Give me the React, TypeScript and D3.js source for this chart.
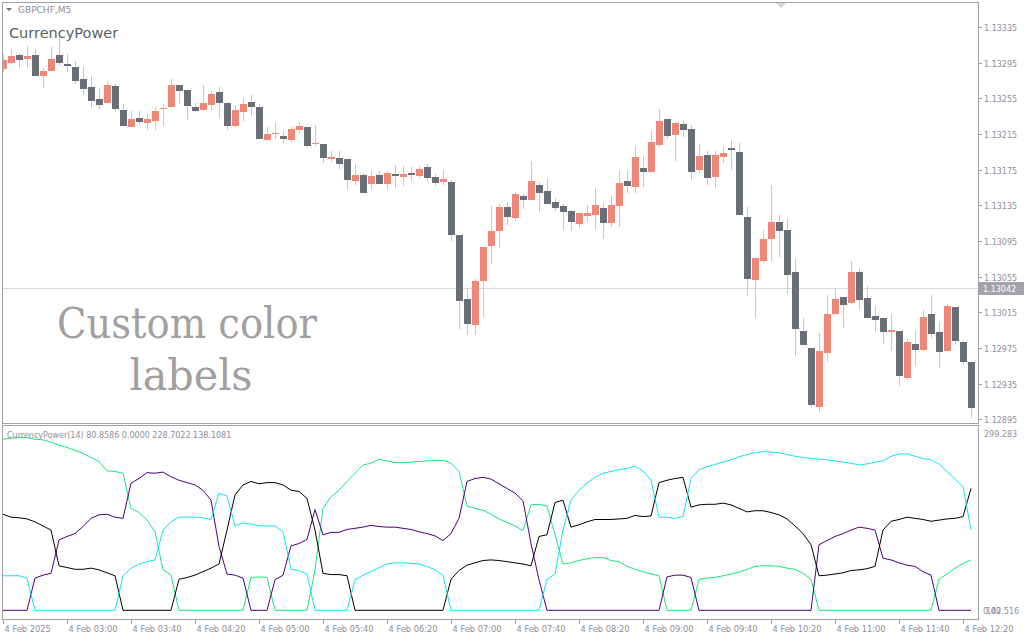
import React from "react";
import * as d3 from "d3";

// GBPCHF M5 candles (bar 0 = 4 Feb 02:20)
const opens = [
  1.13288, 1.13295, 1.13304, 1.13299, 1.13304, 1.13280, 1.13286, 1.13304, 1.13293, 1.13290,
  1.13277, 1.13268, 1.13254, 1.13250, 1.13269, 1.13242, 1.13223, 1.13233, 1.13227, 1.13230,
  1.13243, 1.13245, 1.13270, 1.13264, 1.13245, 1.13242, 1.13247, 1.13262, 1.13250, 1.13224,
  1.13240, 1.13251, 1.13245, 1.13208, 1.13215, 1.13213, 1.13208, 1.13219, 1.13223, 1.13204,
  1.13204, 1.13187, 1.13188, 1.13187, 1.13162, 1.13169, 1.13159, 1.13169, 1.13159, 1.13170,
  1.13167, 1.13171, 1.13168, 1.13178, 1.13167, 1.13161, 1.13161, 1.13102, 1.13030, 1.13001,
  1.13050, 1.13089, 1.13106, 1.13133, 1.13121, 1.13145, 1.13141, 1.13158, 1.13151, 1.13139,
  1.13134, 1.13129, 1.13114, 1.13123, 1.13124, 1.13132, 1.13115, 1.13134, 1.13162, 1.13156,
  1.13177, 1.13172, 1.13203, 1.13232, 1.13214, 1.13226, 1.13221, 1.13175, 1.13191, 1.13167,
  1.13189, 1.13199, 1.13195, 1.13122, 1.13051, 1.13073, 1.13097, 1.13116, 1.13107, 1.13060,
  1.12994, 1.12975, 1.12909, 1.12969, 1.13013, 1.13032, 1.13025, 1.13060, 1.13031, 1.13011,
  1.13009, 1.12993, 1.12994, 1.12941, 1.12979, 1.12973, 1.13013, 1.12993, 1.12972, 1.13021,
  1.12982, 1.12959,
];
const highs = [
  1.13305, 1.13310, 1.13306, 1.13314, 1.13310, 1.13289, 1.13313, 1.13325, 1.13305, 1.13297,
  1.13290, 1.13280, 1.13267, 1.13274, 1.13271, 1.13249, 1.13241, 1.13241, 1.13237, 1.13245,
  1.13249, 1.13277, 1.13270, 1.13264, 1.13250, 1.13270, 1.13263, 1.13268, 1.13251, 1.13247,
  1.13255, 1.13259, 1.13249, 1.13223, 1.13227, 1.13218, 1.13223, 1.13228, 1.13223, 1.13225,
  1.13204, 1.13196, 1.13196, 1.13187, 1.13181, 1.13171, 1.13174, 1.13174, 1.13174, 1.13180,
  1.13179, 1.13178, 1.13179, 1.13181, 1.13170, 1.13175, 1.13163, 1.13102, 1.13042, 1.13052,
  1.13088, 1.13134, 1.13136, 1.13139, 1.13150, 1.13148, 1.13185, 1.13161, 1.13165, 1.13143,
  1.13136, 1.13130, 1.13126, 1.13135, 1.13154, 1.13138, 1.13145, 1.13174, 1.13174, 1.13202,
  1.13190, 1.13218, 1.13243, 1.13232, 1.13228, 1.13230, 1.13225, 1.13204, 1.13196, 1.13196,
  1.13200, 1.13208, 1.13205, 1.13133, 1.13076, 1.13107, 1.13158, 1.13124, 1.13120, 1.13075,
  1.13009, 1.12975, 1.12992, 1.13034, 1.13041, 1.13032, 1.13073, 1.13065, 1.13045, 1.13022,
  1.13009, 1.13013, 1.12994, 1.12985, 1.12994, 1.13018, 1.13034, 1.13004, 1.13024, 1.13021,
  1.12983, 1.12959,
];
const lows = [
  1.13284, 1.13293, 1.13289, 1.13289, 1.13280, 1.13267, 1.13286, 1.13291, 1.13284, 1.13271,
  1.13259, 1.13244, 1.13243, 1.13250, 1.13241, 1.13224, 1.13223, 1.13225, 1.13219, 1.13219,
  1.13224, 1.13245, 1.13249, 1.13231, 1.13240, 1.13242, 1.13242, 1.13233, 1.13219, 1.13223,
  1.13230, 1.13235, 1.13209, 1.13208, 1.13209, 1.13205, 1.13206, 1.13215, 1.13200, 1.13202,
  1.13183, 1.13184, 1.13176, 1.13153, 1.13158, 1.13149, 1.13153, 1.13159, 1.13153, 1.13154,
  1.13157, 1.13162, 1.13166, 1.13161, 1.13157, 1.13158, 1.13095, 1.12996, 1.12990, 1.12990,
  1.13010, 1.13069, 1.13087, 1.13113, 1.13117, 1.13131, 1.13141, 1.13128, 1.13136, 1.13129,
  1.13107, 1.13106, 1.13110, 1.13116, 1.13108, 1.13097, 1.13111, 1.13111, 1.13149, 1.13149,
  1.13156, 1.13172, 1.13200, 1.13209, 1.13185, 1.13212, 1.13163, 1.13171, 1.13158, 1.13154,
  1.13183, 1.13175, 1.13124, 1.13033, 1.13009, 1.13070, 1.13072, 1.13077, 1.13036, 1.12966,
  1.12978, 1.12909, 1.12903, 1.12959, 1.13013, 1.12997, 1.13024, 1.13019, 1.13009, 1.12993,
  1.12979, 1.12972, 1.12932, 1.12939, 1.12955, 1.12972, 1.12986, 1.12953, 1.12972, 1.12979,
  1.12956, 1.12896,
];
const closes = [
  1.13298, 1.13302, 1.13298, 1.13302, 1.13280, 1.13286, 1.13299, 1.13295, 1.13291, 1.13274,
  1.13265, 1.13252, 1.13247, 1.13270, 1.13243, 1.13224, 1.13232, 1.13228, 1.13232, 1.13241,
  1.13244, 1.13270, 1.13263, 1.13246, 1.13241, 1.13250, 1.13260, 1.13250, 1.13224, 1.13242,
  1.13249, 1.13245, 1.13209, 1.13215, 1.13216, 1.13209, 1.13221, 1.13224, 1.13202, 1.13205,
  1.13188, 1.13189, 1.13181, 1.13163, 1.13169, 1.13149, 1.13168, 1.13159, 1.13171, 1.13168,
  1.13170, 1.13169, 1.13176, 1.13166, 1.13160, 1.13165, 1.13102, 1.13028, 1.13002, 1.13050,
  1.13088, 1.13106, 1.13133, 1.13122, 1.13148, 1.13141, 1.13162, 1.13149, 1.13136, 1.13132,
  1.13128, 1.13116, 1.13126, 1.13126, 1.13135, 1.13115, 1.13135, 1.13160, 1.13157, 1.13189,
  1.13172, 1.13206, 1.13230, 1.13213, 1.13227, 1.13219, 1.13172, 1.13190, 1.13166, 1.13191,
  1.13194, 1.13197, 1.13124, 1.13052, 1.13076, 1.13097, 1.13116, 1.13106, 1.13057, 1.12996,
  1.12978, 1.12911, 1.12972, 1.13013, 1.13030, 1.13023, 1.13060, 1.13029, 1.13009, 1.13006,
  1.12993, 1.12995, 1.12944, 1.12982, 1.12973, 1.13010, 1.12991, 1.12970, 1.13022, 1.12983,
  1.12959, 1.12908,
];

// CurrencyPower(14) buffers
const powerGreen = [
  292, 294, 295, 295, 292, 291, 287, 282, 278, 273, 268, 261, 254, 238, 237, 234, 174, 167, 154, 134,
  69, 60, 0, 0, 0, 0, 0, 0, 0, 0, 0, 56, 57, 56, 0, 0, 0, 0, 0, 69,
  174, 194, 205, 220, 234, 248, 251, 258, 255, 252, 252, 253, 254, 255, 256, 256, 251, 237, 178, 174,
  171, 164, 156, 150, 144, 136, 180, 181, 178, 129, 79, 81, 85, 88, 90, 90, 85, 83, 75, 70,
  66, 62, 59, 0, 0, 0, 0, 53, 55, 56, 59, 62, 65, 70, 75, 76, 76, 75, 72, 70,
  63, 53, 0, 0, 0, 0, 0, 0, 0, 0, 0, 0, 0, 0, 0, 0, 0, 53, 62, 72,
  80, 86,
];
const powerIndigo = [
  0, 0, 0, 0, 55, 60, 63, 120, 126, 131, 143, 157, 163, 164, 159, 157, 217, 225, 235, 234,
  236, 228, 222, 218, 214, 205, 188, 109, 62, 60, 55, 0, 0, 0, 52, 60, 110, 114, 121, 172,
  129, 133, 133, 138, 140, 142, 145, 143, 142, 142, 140, 138, 134, 131, 127, 119, 131, 157, 220, 225,
  227, 224, 216, 208, 200, 187, 114, 52, 0, 0, 0, 0, 0, 0, 0, 0, 0, 0, 0, 0,
  0, 0, 0, 57, 60, 60, 56, 0, 0, 0, 0, 0, 0, 0, 0, 0, 0, 0, 0, 0,
  0, 0, 112, 119, 126, 131, 137, 142, 140, 137, 89, 86, 81, 77, 75, 66, 60, 0, 0, 0,
  0, 0,
];
const powerBlack = [
  164, 159, 158, 156, 151, 144, 137, 76, 73, 70, 70, 72, 69, 64, 59, 0, 0, 0, 0, 0,
  0, 0, 53, 56, 60, 66, 72, 79, 137, 197, 214, 220, 216, 218, 218, 214, 205, 203, 191, 137,
  63, 61, 61, 59, 0, 0, 0, 0, 0, 0, 0, 0, 0, 0, 0, 0, 53, 68, 77, 81,
  85, 86, 85, 83, 81, 79, 76, 126, 129, 184, 188, 142, 146, 151, 155, 155, 155, 156, 157, 162,
  160, 161, 218, 222, 225, 227, 176, 180, 181, 181, 183, 180, 174, 168, 170, 170, 167, 163, 156, 144,
  131, 112, 59, 60, 62, 64, 68, 69, 71, 75, 137, 152, 155, 159, 157, 155, 152, 154, 156, 157,
  160, 208,
];
const powerCyan = [
  59, 59, 59, 55, 0, 0, 0, 0, 0, 0, 0, 0, 0, 0, 0, 59, 72, 79, 83, 86,
  137, 151, 159, 159, 159, 158, 155, 200, 195, 144, 149, 147, 144, 144, 144, 134, 70, 68, 62, 0,
  0, 0, 0, 0, 52, 60, 66, 73, 79, 81, 81, 80, 79, 75, 69, 60, 0, 0, 0, 0,
  0, 0, 0, 0, 0, 0, 0, 0, 53, 62, 137, 188, 205, 217, 227, 234, 237, 240, 242, 246,
  238, 222, 159, 159, 157, 160, 225, 240, 245, 249, 253, 257, 262, 266, 269, 271, 270, 269, 266, 263,
  261, 259, 258, 257, 255, 253, 251, 248, 250, 253, 255, 263, 267, 267, 263, 259, 257, 250, 237, 224,
  211, 137,
];
// values printed in the indicator header
const headerValues = ["80.8586", "0.0000", "228.7022", "138.1081"];

const priceTicks = [1.13335, 1.13295, 1.13255, 1.13215, 1.13175, 1.13135, 1.13095, 1.13055, 1.13015, 1.12975, 1.12935, 1.12895];
const timeLabels = [
  "4 Feb 2025", "4 Feb 03:00", "4 Feb 03:40", "4 Feb 04:20", "4 Feb 05:00", "4 Feb 05:40",
  "4 Feb 06:20", "4 Feb 07:00", "4 Feb 07:40", "4 Feb 08:20", "4 Feb 09:00", "4 Feb 09:40",
  "4 Feb 10:20", "4 Feb 11:00", "4 Feb 11:40", "4 Feb 12:20",
];
const currentPrice = 1.13042;
const powerMax = 299.283;

const axisFont = "'DejaVu Sans', Verdana, sans-serif";
const textGray = "#8e8e9c";
const frameGray = "#a0a0a8";

function App() {
  const width = 1024, height = 640;
  const left = 2, right = 978;
  const mainTop = 2, mainBottom = 423;
  const subTop = 425, subBottom = 619;

  // one bar every 8px
  const x = d3.scaleLinear().domain([0, opens.length - 1]).range([3, 971]);
  const y = d3.scaleLinear().domain([1.12895, 1.13335]).range([419.3, 27]);
  const yp = d3.scaleLinear().domain([0, powerMax]).range([610.3, 435]);

  const line = d3.line<number>()
    .x((d, i) => x(i))
    .y(d => yp(d));

  const powerLines = [
    {values: powerGreen, color: "#16e87e"},
    {values: powerIndigo, color: "#4b0082"},
    {values: powerBlack, color: "#000000"},
    {values: powerCyan, color: "#12e4ee"},
  ];

  const priceY = Math.round(y(currentPrice));

  return (
    <svg width={width} height={height} style={{position: "absolute", left: 0, top: 0, background: "#fff"}}>
      <defs>
        <clipPath id="mainClip">
          <rect x={left} y={mainTop} width={right - left} height={mainBottom - mainTop} />
        </clipPath>
        <clipPath id="subClip">
          <rect x={left} y={subTop} width={right - left} height={subBottom - subTop} />
        </clipPath>
      </defs>

      {/* main window */}
      <g clipPath="url(#mainClip)">
        <line x1={left} x2={right} y1={priceY + 0.5} y2={priceY + 0.5} stroke="#d8d8e0" />
        {opens.map((o, i) => {
          const cx = Math.round(x(i));
          const c = closes[i];
          const top = Math.round(y(Math.max(o, c)));
          const bot = Math.round(y(Math.min(o, c)));
          return (
            <g key={i}>
              <line x1={cx + 0.5} x2={cx + 0.5} y1={Math.round(y(highs[i]))} y2={Math.round(y(lows[i]))}
                    stroke="#c6c7d1" />
              <rect x={cx - 3} y={top} width={7} height={Math.max(1, bot - top)}
                    fill={c >= o ? "#ef8677" : "#6a6f77"} />
            </g>
          );
        })}
        <path d="M776,3 L786,3 L781,8 Z" fill="#d2d2da" />
      </g>
      <rect x={left + 0.5} y={mainTop + 0.5} width={right - left} height={mainBottom - mainTop} fill="none" stroke={frameGray} />

      <path d="M6,8 L12,8 L9,11 Z" fill="#6e6e7e" />
      <text x={18} y={13} fontFamily={axisFont} fontSize={9} fill={textGray}>GBPCHF,M5</text>
      <text x={9} y={37.5} fontFamily={axisFont} fontSize={14.5} fill="#5a5f66">CurrencyPower</text>

      <g fontFamily="'DejaVu Serif Condensed', 'DejaVu Serif', serif" fontSize={42} fill="#a39f9f" textAnchor="middle">
        <text x={187} y={338} textLength={260} lengthAdjust="spacingAndGlyphs">Custom color</text>
        <text x={191} y={390} textLength={123} lengthAdjust="spacingAndGlyphs">labels</text>
      </g>

      {/* price scale */}
      <g fontFamily={axisFont} fontSize={8} fill={textGray}>
        {priceTicks.map(p => {
          const ty = Math.round(y(p)) + 0.5;
          return (
            <g key={p}>
              <line x1={right} x2={right + 4} y1={ty} y2={ty} stroke={frameGray} />
              <text x={984} y={ty + 3}>{p.toFixed(5)}</text>
            </g>
          );
        })}
      </g>
      <rect x={979} y={priceY - 6} width={45} height={13} fill="#a2a2aa" />
      <text x={983} y={priceY + 3.5} fontFamily={axisFont} fontSize={8} fill="#ffffff">
        {currentPrice.toFixed(5)}
      </text>

      {/* indicator window */}
      <g clipPath="url(#subClip)" fill="none" strokeWidth={1}>
        {powerLines.map(s => (
          <path key={s.color} d={line(s.values) ?? ""} stroke={s.color} />
        ))}
      </g>
      <rect x={left + 0.5} y={subTop + 0.5} width={right - left} height={subBottom - subTop} fill="none" stroke={frameGray} />
      <text x={7} y={438} fontFamily={axisFont} fontSize={8} fill={textGray}>
        {`CurrencyPower(14) ${headerValues.join(" ")}`}
      </text>
      <g fontFamily={axisFont} fontSize={8} fill={textGray}>
        <text x={984} y={yp(powerMax) + 2}>{powerMax.toFixed(3)}</text>
        <text x={983} y={yp(0) + 4}>0.00</text>
        <text x={986} y={yp(0) + 4}>142.516</text>
      </g>

      {/* time scale */}
      <g fontFamily={axisFont} fontSize={8.3} fill={textGray}>
        {timeLabels.map((t, j) => {
          const tx = Math.round(x(j * 8)) + 0.5;
          return (
            <g key={t}>
              <line x1={tx} x2={tx} y1={subBottom} y2={subBottom + 5} stroke={frameGray} />
              <text x={tx + 1} y={632}>{t}</text>
            </g>
          );
        })}
      </g>
    </svg>
  );
}

export default App;
